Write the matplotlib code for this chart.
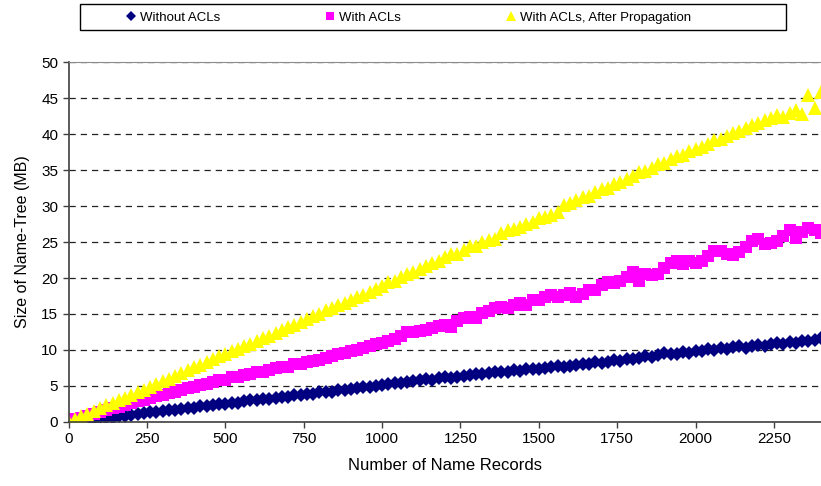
import numpy as np
import matplotlib
matplotlib.use('Agg')
import matplotlib.pyplot as plt
from matplotlib.patches import Rectangle

plt.rcParams['font.family'] = ['Liberation Sans', 'DejaVu Sans']

# number of name records (one sample every 20 records)
registros = np.arange(0, 2401, 20)

sem_acl = [
    0.0, 0.1, 0.2, 0.3, 0.4, 0.5, 0.6, 0.6, 0.8, 0.9,
    1.0, 1.1, 1.2, 1.4, 1.4, 1.5, 1.7, 1.7, 1.8, 2.0,
    2.0, 2.2, 2.2, 2.3, 2.5, 2.5, 2.7, 2.7, 2.9, 3.0,
    3.0, 3.2, 3.2, 3.4, 3.5, 3.5, 3.7, 3.7, 3.9, 3.9,
    4.1, 4.2, 4.2, 4.4, 4.5, 4.6, 4.7, 4.8, 4.9, 5.0,
    5.2, 5.3, 5.4, 5.4, 5.6, 5.7, 5.8, 6.0, 5.9, 6.1,
    6.2, 6.1, 6.3, 6.4, 6.5, 6.7, 6.6, 6.8, 7.0, 6.9,
    7.0, 7.2, 7.1, 7.3, 7.4, 7.3, 7.5, 7.6, 7.8, 7.6,
    7.8, 7.9, 8.1, 8.0, 8.3, 8.2, 8.4, 8.6, 8.5, 8.8,
    8.7, 8.9, 9.1, 9.0, 9.3, 9.6, 9.4, 9.5, 9.7, 9.6,
    9.8, 9.9, 10.1, 10.0, 10.3, 10.2, 10.4, 10.6, 10.3, 10.5,
    10.7, 10.6, 10.9, 11.0, 10.8, 11.1, 11.0, 11.3, 11.2, 11.4,
    11.6,
]

com_acl = [
    0.3, 0.4, 0.6, 0.9, 1.1, 1.4, 1.6, 1.9, 2.1, 2.4,
    2.7, 2.9, 3.1, 3.4, 3.6, 3.8, 4.0, 4.2, 4.5, 4.7,
    4.9, 5.1, 5.3, 5.5, 5.8, 5.9, 6.2, 6.3, 6.5, 6.7,
    6.9, 7.0, 7.2, 7.5, 7.6, 7.7, 8.0, 8.1, 8.3, 8.5,
    8.6, 8.9, 9.1, 9.5, 9.6, 9.9, 10.0, 10.3, 10.5, 10.8,
    11.0, 11.3, 11.5, 12.0, 12.5, 12.5, 12.7, 12.8, 13.0, 13.3,
    13.5, 13.2, 14.0, 14.5, 14.6, 14.4, 15.1, 15.4, 15.9, 16.0,
    15.8, 16.2, 16.5, 16.2, 16.9, 17.0, 17.4, 17.6, 17.3, 17.6,
    17.9, 17.4, 17.8, 18.4, 18.3, 19.0, 19.5, 19.3, 19.6, 20.1,
    20.9, 19.6, 20.5, 20.4, 20.6, 21.4, 22.1, 22.3, 22.0, 22.3,
    22.1, 22.4, 23.1, 23.8, 23.7, 23.3, 23.2, 23.6, 24.3, 25.2,
    25.4, 24.7, 24.9, 25.1, 25.8, 26.6, 25.5, 26.4, 27.0, 26.6,
    26.3,
]

com_acl_propag = [
    0.0, 0.4, 0.8, 1.1, 1.5, 1.9, 2.3, 2.7, 3.0, 3.4,
    3.8, 4.2, 4.5, 4.9, 5.3, 5.7, 6.0, 6.4, 6.8, 7.2,
    7.6, 7.9, 8.3, 8.7, 9.1, 9.4, 9.8, 10.2, 10.6, 10.9,
    11.3, 11.7, 12.0, 12.4, 12.8, 13.2, 13.5, 13.9, 14.3, 14.7,
    15.0, 15.5, 15.8, 16.2, 16.5, 16.9, 17.3, 17.6, 18.0, 18.5,
    18.9, 19.4, 19.6, 20.1, 20.6, 20.8, 21.3, 21.7, 22.1, 22.4,
    22.9, 23.3, 23.4, 23.9, 24.4, 24.5, 25.0, 25.3, 25.4, 26.3,
    26.6, 26.8, 27.1, 27.5, 27.8, 28.3, 28.5, 28.7, 29.2, 30.2,
    30.4, 30.8, 31.2, 31.4, 31.9, 32.3, 32.5, 33.1, 33.4, 33.7,
    34.2, 34.7, 34.9, 35.3, 35.8, 36.0, 36.5, 36.9, 37.1, 37.6,
    37.9, 38.2, 38.6, 39.1, 39.3, 39.7, 40.2, 40.4, 40.8, 41.2,
    41.5, 41.9, 42.2, 42.6, 42.4, 42.9, 43.3, 42.8, 45.4, 43.6,
    45.8,
]

series = [
    ('Without ACLs', sem_acl, 'D', '#000080', 7.5),
    ('With ACLs', com_acl, 's', '#FF00FF', 8.5),
    ('With ACLs, After Propagation', com_acl_propag, '^', '#FFFF00', 10.0),
]

fig = plt.figure(figsize=(8.21, 4.86), dpi=100)
ax = fig.add_axes([0.0836, 0.1317, 0.9164, 0.7407])

handles = []
for nome, valores, marca, cor, tam in series:
    h, = ax.plot(registros, valores, linestyle='none', marker=marca, color=cor,
                 markersize=tam, markeredgewidth=0, label=nome)
    handles.append(h)

ax.set_xlim(0, 2400)
ax.set_ylim(0, 50)
ax.set_xticks(np.arange(0, 2401, 250))
ax.set_yticks(np.arange(0, 51, 5))
ax.tick_params(axis='both', direction='out', length=4, width=1, colors='#404040',
               labelcolor='black', labelsize=11)
ax.yaxis.grid(True, linestyle=(0, (5, 4)), color='#222222', linewidth=0.9)
ax.set_axisbelow(True)

ax.spines['left'].set_color('#404040')
ax.spines['bottom'].set_color('#404040')
ax.spines['top'].set_color('#8c8c8c')
ax.spines['right'].set_visible(False)
for s in ('left', 'bottom'):
    ax.spines[s].set_linewidth(1.2)

ax.set_xlabel('Number of Name Records', fontsize=12, labelpad=8)
ax.set_ylabel('Size of Name-Tree (MB)', fontsize=11.5, labelpad=8)

# legend box across the top
fig.patches.append(Rectangle((80 / 821, 1 - 30 / 486), 706 / 821, 26 / 486,
                             transform=fig.transFigure, fill=False,
                             edgecolor='black', linewidth=1))
fig.legend(handles=handles, loc='center left', ncol=3, frameon=False,
           bbox_to_anchor=(119 / 821, 1 - 18 / 486), fontsize=9.5,
           handlelength=0.8, handletextpad=0.3, columnspacing=7.9,
           markerscale=0.7, borderpad=0)

fig.savefig('out.png', dpi=100)
